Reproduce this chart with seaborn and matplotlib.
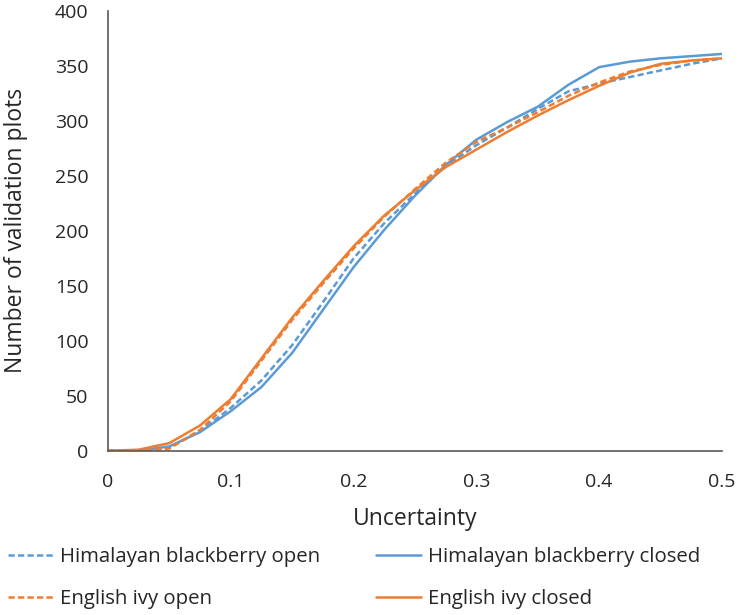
import numpy as np
import pandas as pd
import matplotlib
matplotlib.use("Agg")
import matplotlib.pyplot as plt
import seaborn as sns

# Values
uncertainty = [0, 0.025, 0.05, 0.075, 0.1, 0.125, 0.15, 0.175, 0.2, 0.225, 0.25,
               0.275, 0.3, 0.325, 0.35, 0.375, 0.4, 0.425, 0.45, 0.475, 0.5]
hb_open = [0, 0, 3, 18, 39, 64, 96, 135, 175, 207, 234,
           259, 278, 294, 311, 327, 334, 340, 346, 352, 357]
hb_closed = [0, 0, 4, 17, 36, 58, 89, 128, 167, 201, 232,
             260, 283, 299, 313, 333, 349, 354, 357, 359, 361]
ivy_open = [0, 0, 2, 19, 45, 82, 119, 152, 184, 213, 238,
            262, 281, 294, 308, 323, 335, 345, 351, 355, 357]
ivy_closed = [0, 1, 7, 23, 47, 84, 121, 154, 186, 214, 237,
              258, 274, 290, 305, 319, 332, 344, 352, 355, 357]

series_names = ["Himalayan blackberry open", "Himalayan blackberry closed",
                "English ivy open", "English ivy closed"]
series_values = [hb_open, hb_closed, ivy_open, ivy_closed]

blue = "#5B9BD5"
orange = "#ED7D31"
palette = {series_names[0]: blue, series_names[1]: blue,
           series_names[2]: orange, series_names[3]: orange}
dashes = {series_names[0]: (2.5, 1.3), series_names[1]: "",
          series_names[2]: (2.5, 1.3), series_names[3]: ""}

df = pd.concat([
    pd.DataFrame({"Uncertainty": uncertainty, "count": vals, "series": name})
    for name, vals in zip(series_names, series_values)
], ignore_index=True)

sns.set_style("white")
plt.rcParams["font.family"] = ["Open Sans", "DejaVu Sans"]

fig = plt.figure(figsize=(7.39, 6.15), dpi=100)
ax = fig.add_axes([0.146, 0.267, 0.831, 0.715])

sns.lineplot(data=df, x="Uncertainty", y="count", hue="series", style="series",
             palette=palette, dashes=dashes, hue_order=series_names,
             style_order=series_names, linewidth=1.8, ax=ax, legend=False)

ax.set_xlim(0, 0.5)
ax.set_ylim(0, 400)
ax.set_xticks([0, 0.1, 0.2, 0.3, 0.4, 0.5])
ax.set_xticklabels(["0", "0.1", "0.2", "0.3", "0.4", "0.5"])
ax.set_yticks(range(0, 401, 50))
ax.tick_params(axis="y", length=0, labelsize=14, colors="#262626", pad=14)
ax.tick_params(axis="x", length=0, labelsize=14, colors="#262626", pad=16)
ax.set_xlabel("Uncertainty", fontsize=16.5, color="#262626", va="center")
ax.set_ylabel("Number of validation plots", fontsize=16.5, color="#262626", va="center")
ax.xaxis.set_label_coords(0.5, -0.155)
ax.yaxis.set_label_coords(-0.149, 0.5)

for side in ["top", "right"]:
    ax.spines[side].set_visible(False)
for side in ["left", "bottom"]:
    ax.spines[side].set_color("#595959")
    ax.spines[side].set_linewidth(1.2)

# legend, two columns under the plot
handles = [plt.Line2D([], [], color=palette[n], linewidth=1.8,
                      linestyle=(0, (2.5, 1.3)) if "open" in n else "-")
           for n in series_names]
order = [0, 2, 1, 3]
fig.legend([handles[i] for i in order], [series_names[i] for i in order],
           loc="upper left", bbox_to_anchor=(0.011, 0.11), ncol=2, frameon=False,
           fontsize=14.7, handlelength=2.2, handletextpad=0.34, columnspacing=2.75,
           labelspacing=1.08, borderpad=0, borderaxespad=0, labelcolor="#262626")

fig.savefig("out.png", dpi=100)
